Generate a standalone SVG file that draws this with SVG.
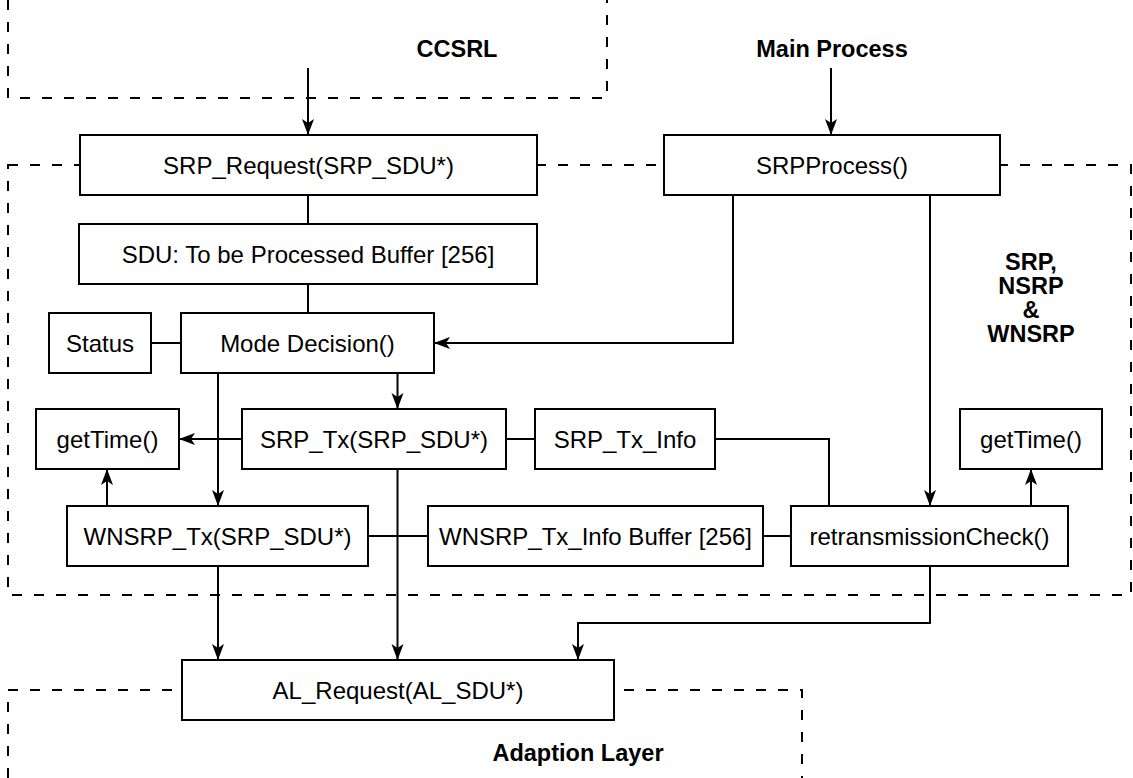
<svg xmlns="http://www.w3.org/2000/svg" width="1133" height="778" viewBox="0 0 1133 778">
<defs>
<style>
.bg{fill:#fff}
.dash{fill:none;stroke:#000;stroke-width:2;stroke-dasharray:10 12}
.box{fill:#fff;stroke:#000;stroke-width:2}
.ln{fill:none;stroke:#000;stroke-width:2}
.t{font-family:"Liberation Sans",Arial,sans-serif;font-size:24px;text-anchor:middle;fill:#000}
.b{font-family:"Liberation Sans",Arial,sans-serif;font-size:23.5px;font-weight:bold;text-anchor:middle;fill:#000}
</style>
<marker id="ah" markerUnits="userSpaceOnUse" markerWidth="18" markerHeight="14" viewBox="-17 -7 18 14" refX="0" refY="0" orient="auto">
<path d="M0,0 L-16,-6 L-12,0 L-16,6 Z" fill="#000"/>
</marker>
</defs>
<rect class="bg" x="0" y="0" width="1133" height="778"/>
<g id="regions">
<path class="dash" d="M8,0 V98 H607 V0"/>
<rect class="dash" x="8" y="165" width="1123" height="430"/>
<path class="dash" d="M8,778 V690 H802 V778"/>
<text class="b" x="457" y="57">CCSRL</text>
<text class="b" x="832" y="57">Main Process</text>
<text class="b" x="1031" y="270">SRP,</text>
<text class="b" x="1031" y="294">NSRP</text>
<text class="b" x="1031" y="318">&amp;</text>
<text class="b" x="1031" y="342">WNSRP</text>
<text class="b" x="578" y="761">Adaption Layer</text>
</g>
<g id="connectors">
<path class="ln" d="M308,68 V135" marker-end="url(#ah)"/>
<path class="ln" d="M831,68 V135" marker-end="url(#ah)"/>
<path class="ln" d="M308,195 V224"/>
<path class="ln" d="M308,284 V313"/>
<path class="ln" d="M151,343 H181"/>
<path class="ln" d="M733,195 V343 H434" marker-end="url(#ah)"/>
<path class="ln" d="M930,195 V506" marker-end="url(#ah)"/>
<path class="ln" d="M397.5,373 V409" marker-end="url(#ah)"/>
<path class="ln" d="M218,373 V506" marker-end="url(#ah)"/>
<path class="ln" d="M242,439 H179" marker-end="url(#ah)"/>
<path class="ln" d="M506,439 H535"/>
<path class="ln" d="M715,439 H829 V506"/>
<path class="ln" d="M107,506 V469" marker-end="url(#ah)"/>
<path class="ln" d="M368,536 H428"/>
<path class="ln" d="M763,536 H791"/>
<path class="ln" d="M1031,506 V469" marker-end="url(#ah)"/>
<path class="ln" d="M397.5,469 V660" marker-end="url(#ah)"/>
<path class="ln" d="M218,566 V660" marker-end="url(#ah)"/>
<path class="ln" d="M930,566 V623 H578 V660" marker-end="url(#ah)"/>
</g>
<g id="srp_request"><rect class="box" x="80" y="135" width="457" height="60"/><text class="t" x="308.5" y="173.5">SRP_Request(SRP_SDU*)</text></g>
<g id="srpprocess"><rect class="box" x="664" y="135" width="336" height="60"/><text class="t" x="832" y="173.5">SRPProcess()</text></g>
<g id="sdu_buffer"><rect class="box" x="79" y="224" width="458" height="60"/><text class="t" x="308" y="262.5">SDU: To be Processed Buffer [256]</text></g>
<g id="status"><rect class="box" x="49" y="313" width="102" height="60"/><text class="t" x="100" y="351.5">Status</text></g>
<g id="mode_decision"><rect class="box" x="181" y="313" width="253" height="60"/><text class="t" x="307.5" y="351.5">Mode Decision()</text></g>
<g id="gettime_left"><rect class="box" x="36" y="409" width="143" height="60"/><text class="t" x="107.5" y="447.5">getTime()</text></g>
<g id="srp_tx"><rect class="box" x="242" y="409" width="264" height="60"/><text class="t" x="374" y="447.5">SRP_Tx(SRP_SDU*)</text></g>
<g id="srp_tx_info"><rect class="box" x="535" y="409" width="180" height="60"/><text class="t" x="625" y="447.5">SRP_Tx_Info</text></g>
<g id="gettime_right"><rect class="box" x="960" y="409" width="142" height="60"/><text class="t" x="1031" y="447.5">getTime()</text></g>
<g id="wnsrp_tx"><rect class="box" x="67" y="506" width="301" height="60"/><text class="t" x="217.5" y="544.5">WNSRP_Tx(SRP_SDU*)</text></g>
<g id="wnsrp_tx_info"><rect class="box" x="428" y="506" width="335" height="60"/><text class="t" x="595.5" y="544.5">WNSRP_Tx_Info Buffer [256]</text></g>
<g id="retransmission_check"><rect class="box" x="791" y="506" width="277" height="60"/><text class="t" x="929.5" y="544.5">retransmissionCheck()</text></g>
<g id="al_request"><rect class="box" x="182" y="660" width="432" height="60"/><text class="t" x="398" y="698.5">AL_Request(AL_SDU*)</text></g>
</svg>
